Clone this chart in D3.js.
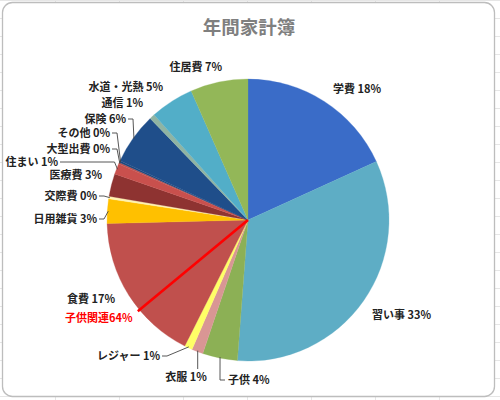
<!DOCTYPE html>
<html>
<head lang="ja">
    <meta charset="UTF-8">
    <title>年間家計簿</title>
    <script src="https://d3js.org/d3.v7.min.js"></script>
    <style>
        body{ margin:0; background:#fff; }
        text{ font-family:"Noto Sans CJK JP", "Noto Sans", sans-serif; }
        .lbl{ font-size:11px; font-weight:bold; fill:#222; }
        .leader{ fill:none; stroke:#444; stroke-width:0.9; }
    </style>
</head>
<body>
<svg id="chart" width="500" height="400"></svg>
<script>

    // data, clockwise from 12 o'clock
    const CATEGORIES = ["学費","習い事","子供","衣服","レジャー","食費","日用雑貨","交際費",
                        "医療費","住まい","大型出費","その他","保険","通信","水道・光熱","住居費"];
    const VALUES = [18.2, 33.0, 4.0, 1.3, 0.9, 17.2, 2.8, 0.3,
                    2.6, 1.2, 0.2, 0.2, 5.9, 0.6, 5.0, 6.6];
    const COLORS = ["#3a6cc8","#5eadc5","#8cb055","#d99694","#ffff66","#c0504d","#ffc000","#fff2b0",
                    "#8e3331","#c9504d","#c0504d","#1f497d","#1f4e8a","#8fb4a3","#52aec8","#93b758"];
    const KODOMO_SHARE = 64;   // 子供関連 annotation (%)

    // label layout: [x, baseline y, anchor, leader type]
    const LABEL_POS = [
        [333, 93, "start", null],
        [372, 319, "start", null],
        [228, 384, "start", "left"],
        [186, 381, "middle", "up"],
        [160, 360, "end", "right"],
        [115, 303, "end", null],
        [97, 223, "end", "right"],
        [97, 200, "end", "right"],
        [102, 179, "end", null],
        [58, 166, "end", "long"],
        [110, 153, "end", "right"],
        [110, 137, "end", "right"],
        [126, 123, "end", "right"],
        [143, 107, "end", null],
        [163, 91, "end", null],
        [222, 71, "end", null]
    ];

    let svg = d3.select('#chart');

    // spreadsheet cells behind the chart area
    let grid = svg.append('g').attr('stroke', '#e6e6e6').attr('stroke-width', 1);
    d3.range(0, 401, 18).forEach(y => grid.append('line').attr('x1', 0).attr('x2', 500).attr('y1', y + 0.5).attr('y2', y + 0.5));
    d3.range(55, 501, 64).forEach(x => grid.append('line').attr('x1', x + 0.5).attr('x2', x + 0.5).attr('y1', 0).attr('y2', 400));

    svg.append('rect')
        .attr('x', 2.5).attr('y', 2.5).attr('width', 492).attr('height', 394)
        .attr('rx', 10).attr('fill', '#fff').attr('stroke', '#bdbdbd').attr('stroke-width', 1.3);

    svg.append('text')
        .attr('x', 249).attr('y', 34)
        .attr('text-anchor', 'middle')
        .style('font-size', '18.5px').style('font-weight', 'bold')
        .attr('fill', '#7f7f7f')
        .text('年間家計簿');

    const cx = 248, cy = 220, radius = 141;
    let g = svg.append('g').attr('transform', `translate(${cx},${cy})`);

    let data = CATEGORIES.map((c, i) => ({name: c, value: VALUES[i], color: COLORS[i]}));
    let total = d3.sum(VALUES);

    let pie = d3.pie().sort(null).value(d => d.value);
    let arcs = pie(data);
    let arc = d3.arc().innerRadius(0).outerRadius(radius);

    g.selectAll('path.slice')
        .data(arcs)
        .enter()
        .append('path')
        .attr('class', 'slice')
        .attr('d', arc)
        .attr('fill', d => d.data.color)
        .attr('stroke', d => d.data.color)
        .attr('stroke-width', 0.3);

    // point on pie edge at mid angle
    function edge(d, r) {
        let a = (d.startAngle + d.endAngle) / 2;
        return [cx + Math.sin(a) * r, cy - Math.cos(a) * r];
    }

    let labels = svg.append('g');
    arcs.forEach((d, i) => {
        let [x, y, anchor, leader] = LABEL_POS[i];
        let pct = Math.round(d.data.value / total * 100);
        labels.append('text')
            .attr('class', 'lbl')
            .attr('x', x).attr('y', y)
            .attr('text-anchor', anchor)
            .text(`${d.data.name} ${pct}%`);

        if (!leader) return;
        let p = edge(d, radius - 1);
        let mid = y - 4;
        let pts;
        if (leader === 'right') pts = [[x + 2, mid], [x + 7, mid], p];
        else if (leader === 'long') pts = [[x + 2, mid], [p[0] - 3, mid], p];
        else if (leader === 'left') pts = [[x - 3, mid], [x - 8, mid], p];
        else pts = [[p[0], y - 12], p];
        labels.append('path')
            .attr('class', 'leader')
            .attr('d', d3.line()(pts));
    });

    // 子供関連 line
    let share = d3.scaleLinear().domain([0, 100]).range([0, 2 * Math.PI]);
    let ka = share(KODOMO_SHARE);
    let kr = radius + 2;
    svg.append('line')
        .attr('x1', cx).attr('y1', cy)
        .attr('x2', cx + Math.sin(ka) * kr).attr('y2', cy - Math.cos(ka) * kr)
        .attr('stroke', '#ff0000').attr('stroke-width', 2.6);

    svg.append('text')
        .attr('class', 'lbl')
        .attr('x', 65).attr('y', 322)
        .style('fill', '#ff0000')
        .text(`子供関連${KODOMO_SHARE}%`);

</script>
</body>
</html>
